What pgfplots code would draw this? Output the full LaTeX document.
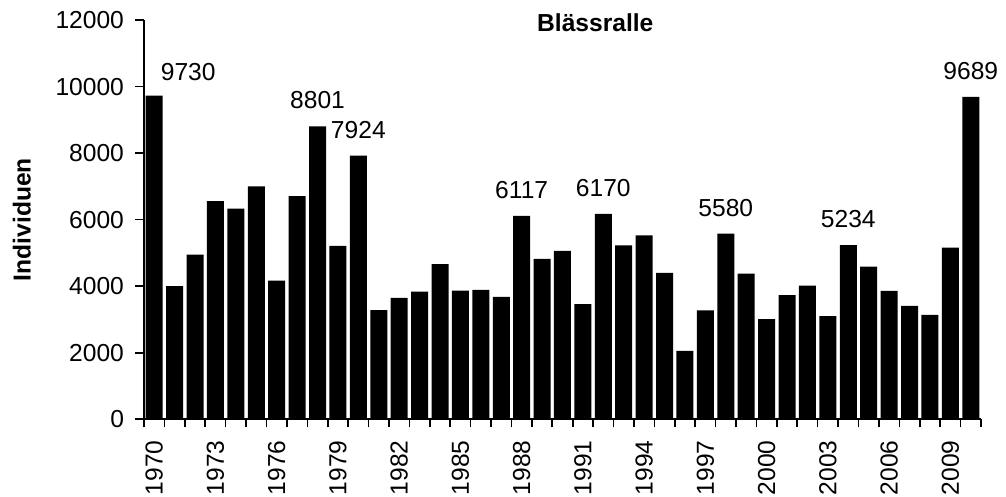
\documentclass[border=0pt]{standalone}
\usepackage{fontspec}
\setmainfont{Liberation Sans}
\usepackage{pgfplots}
\pgfplotsset{compat=1.18}
\newcommand{\lf}{\fontsize{12.3}{14.5}\selectfont}
\begin{document}
\begin{tikzpicture}[font=\lf]
\useasboundingbox (-72pt,-38.85pt) rectangle (431pt,209.65pt);
\begin{axis}[
  at={(0pt,0pt)}, anchor=origin,
  scale only axis, width=418.5pt, height=199.65pt,
  xmin=1969.5, xmax=2010.5, ymin=0, ymax=12000,
  enlargelimits=false,
  axis x line=bottom, axis y line=left,
  axis line style={-, line width=0.8pt, black},
  ytick={0,2000,4000,6000,8000,10000,12000},
  yticklabels={0,2000,4000,6000,8000,10000,12000},
  scaled y ticks=false,
  xtick={1970,1973,1976,1979,1982,1985,1988,1991,1994,1997,2000,2003,2006,2009},
  xticklabels={1970,1973,1976,1979,1982,1985,1988,1991,1994,1997,2000,2003,2006,2009},
  minor xtick={1969.5,1970.5,...,2010.5},
  tick align=outside,
  major tick length=4.5pt, minor tick length=4pt,
  major x tick style={draw=none},
  every tick/.style={line width=0.8pt, black},
  every tick label/.append style={font=\lf},
  xticklabel style={rotate=90, anchor=east, xshift=-2.5pt},
  yticklabel style={xshift=-2pt},
  clip=false,
]
\addplot[ybar, bar width=8.5pt, fill=black, draw=none] coordinates {
(1970,9730) (1971,4000) (1972,4950) (1973,6560) (1974,6330) (1975,7000)
(1976,4170) (1977,6710) (1978,8801) (1979,5210) (1980,7924) (1981,3280)
(1982,3650) (1983,3840) (1984,4660) (1985,3870) (1986,3890) (1987,3680)
(1988,6117) (1989,4820) (1990,5060) (1991,3460) (1992,6170) (1993,5230)
(1994,5530) (1995,4400) (1996,2060) (1997,3270) (1998,5580) (1999,4380)
(2000,3010) (2001,3730) (2002,4020) (2003,3100) (2004,5234) (2005,4590)
(2006,3860) (2007,3410) (2008,3140) (2009,5160) (2010,9689)
};
\addplot[draw=none, mark=none, point meta=explicit symbolic,
  nodes near coords, nodes near coords style={anchor=center, yshift=13pt, inner sep=0pt, font=\lf}]
coordinates {
(1978,8801) [8801] (1980,7924) [7924] (1988,6117) [6117] (1992,6170) [6170]
(1998,5580) [5580] (2004,5234) [5234] (2010,9689) [9689]
};
\addplot[draw=none, mark=none, point meta=explicit symbolic,
  nodes near coords, nodes near coords style={anchor=center, yshift=11.5pt, xshift=17pt, inner sep=0pt, font=\lf}]
coordinates {(1970,9730) [9730]};
\node[font=\lf\bfseries, anchor=center] at (axis description cs:0.5392,0.9925) {Blässralle};
\node[font=\lf\bfseries, rotate=90, anchor=center] at (axis description cs:-0.1461,0.5) {Individuen};
\end{axis}
\end{tikzpicture}
\end{document}
